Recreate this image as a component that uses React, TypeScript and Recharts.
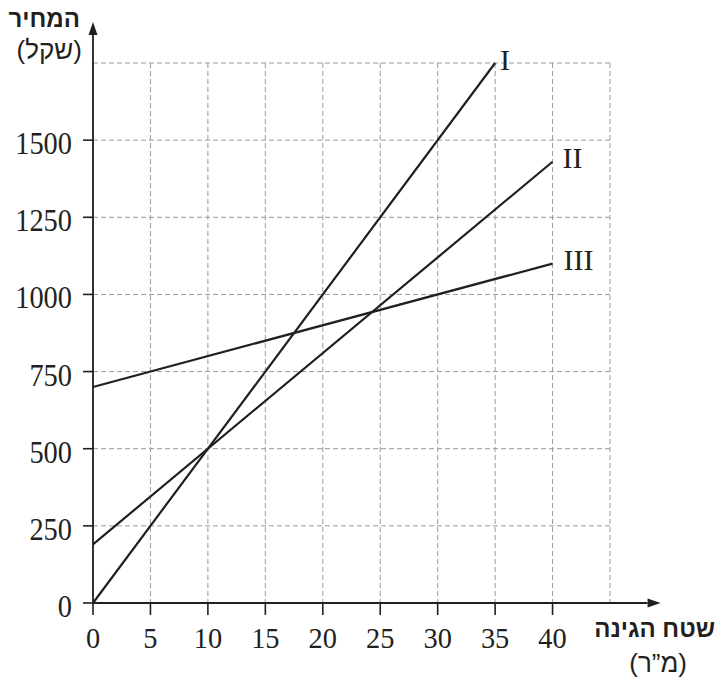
import React from 'react';
import { LineChart, Line, XAxis, YAxis, CartesianGrid, ReferenceLine } from 'recharts';

// garden area (sq m) vs price (shekel)
const xTicks = [0, 5, 10, 15, 20, 25, 30, 35, 40];
const yTicks = [0, 250, 500, 750, 1000, 1250, 1500];
const xGridEnd = 45;
const yGridEnd = 1750;
const xArrowEnd = 49.4;
const yArrowEnd = 1883;

const lineI = [{ x: 0, y: 0 }, { x: 35, y: 1750 }];
const lineII = [{ x: 0, y: 190 }, { x: 40, y: 1430 }];
const lineIII = [{ x: 0, y: 700 }, { x: 40, y: 1100 }];
const lineNames = ['I', 'II', 'III'];

const INK = '#231f20';
const GRID = '#9a9a9a';
const SERIF = '"Liberation Serif", "DejaVu Serif", serif';
const HEB = '"Liberation Sans", "DejaVu Sans", sans-serif';
const DIGIT_W = 14.2;

const XTick = (props: any) => {
  const { x, y, payload } = props;
  if (payload.value === xGridEnd) return <g />;
  const s = String(payload.value);
  return (
    <g>
      <line x1={x} y1={y} x2={x} y2={y + 12} stroke={INK} strokeWidth={1.6} />
      <text x={x} y={y + 45} textAnchor="middle" fontFamily={SERIF} fontSize={30} fill={INK}
        textLength={s.length * DIGIT_W} lengthAdjust="spacingAndGlyphs">
        {s}
      </text>
    </g>
  );
};

const YTick = (props: any) => {
  const { x, y, payload } = props;
  if (payload.value === yGridEnd) return <g />;
  const s = String(payload.value);
  return (
    <g>
      <line x1={x - 10} y1={y} x2={x} y2={y} stroke={INK} strokeWidth={1.6} />
      <text x={x - 21} y={y + 14} textAnchor="end" fontFamily={SERIF} fontSize={31} fill={INK}
        textLength={s.length * DIGIT_W} lengthAdjust="spacingAndGlyphs">
        {s}
      </text>
    </g>
  );
};

const AxisArrow = (props: any) => {
  const { x1, y1, x2, y2 } = props;
  const len = Math.hypot(x2 - x1, y2 - y1) || 1;
  const ux = (x2 - x1) / len;
  const uy = (y2 - y1) / len;
  const head = 13;
  const half = 4.5;
  const bx = x2 - ux * head;
  const by = y2 - uy * head;
  const pts = `${x2},${y2} ${bx - uy * half},${by + ux * half} ${bx + uy * half},${by - ux * half}`;
  return (
    <g>
      <line x1={x1} y1={y1} x2={bx} y2={by} stroke={INK} strokeWidth={1.8} />
      <polygon points={pts} fill={INK} />
    </g>
  );
};

const endLabel = (name: string, last: number, dx: number, dy: number) => (props: any) => {
  const { x, y, index } = props;
  if (index !== last) return <g />;
  return (
    <text x={x + dx} y={y + dy} fontFamily={SERIF} fontSize={30} fill={INK}>
      {name}
    </text>
  );
};

export default function App() {
  return (
    <div style={{ position: 'absolute', left: 0, top: 0, width: 717, height: 679, background: '#fff' }}>
      <LineChart width={717} height={679} margin={{ top: 63, right: 107, bottom: 36, left: 0 }}>
        <CartesianGrid stroke={GRID} strokeDasharray="5 3" strokeWidth={1} />
        <XAxis
          type="number"
          dataKey="x"
          domain={[0, xGridEnd]}
          ticks={[...xTicks, xGridEnd]}
          interval={0}
          height={40}
          axisLine={false}
          tickLine={false}
          tickSize={0}
          tickMargin={0}
          tick={XTick}
        />
        <YAxis
          type="number"
          dataKey="y"
          domain={[0, yGridEnd]}
          ticks={[...yTicks, yGridEnd]}
          interval={0}
          width={93}
          axisLine={false}
          tickLine={false}
          tickSize={0}
          tickMargin={0}
          tick={YTick}
        />
        <Line data={lineI} dataKey="y" type="linear" stroke={INK} strokeWidth={2.2} dot={false}
          isAnimationActive={false} label={endLabel(lineNames[0], lineI.length - 1, 5, 7)} />
        <Line data={lineII} dataKey="y" type="linear" stroke={INK} strokeWidth={2.2} dot={false}
          isAnimationActive={false} label={endLabel(lineNames[1], lineII.length - 1, 10, 6)} />
        <Line data={lineIII} dataKey="y" type="linear" stroke={INK} strokeWidth={2.2} dot={false}
          isAnimationActive={false} label={endLabel(lineNames[2], lineIII.length - 1, 11, 6)} />
        <ReferenceLine segment={[{ x: 0, y: 0 }, { x: xArrowEnd, y: 0 }]} ifOverflow="visible" shape={AxisArrow} />
        <ReferenceLine segment={[{ x: 0, y: 0 }, { x: 0, y: yArrowEnd }]} ifOverflow="visible" shape={AxisArrow} />
      </LineChart>
      <div dir="rtl" style={{ position: 'absolute', left: 6, top: 7, width: 74, textAlign: 'right', fontFamily: HEB, fontWeight: 'bold', fontSize: 24, lineHeight: '24px', color: INK }}>
        המחיר
      </div>
      <div dir="rtl" style={{ position: 'absolute', left: 6, top: 37, width: 76, textAlign: 'right', fontFamily: HEB, fontSize: 26, lineHeight: '26px', color: INK }}>
        (שקל)
      </div>
      <div dir="rtl" style={{ position: 'absolute', left: 580, top: 617, width: 135, textAlign: 'right', fontFamily: HEB, fontWeight: 'bold', fontSize: 24, lineHeight: '24px', color: INK }}>
        שטח הגינה
      </div>
      <div dir="rtl" style={{ position: 'absolute', left: 610, top: 650, width: 77, textAlign: 'right', fontFamily: HEB, fontSize: 26, lineHeight: '26px', color: INK }}>
        (מ”ר)
      </div>
    </div>
  );
}
